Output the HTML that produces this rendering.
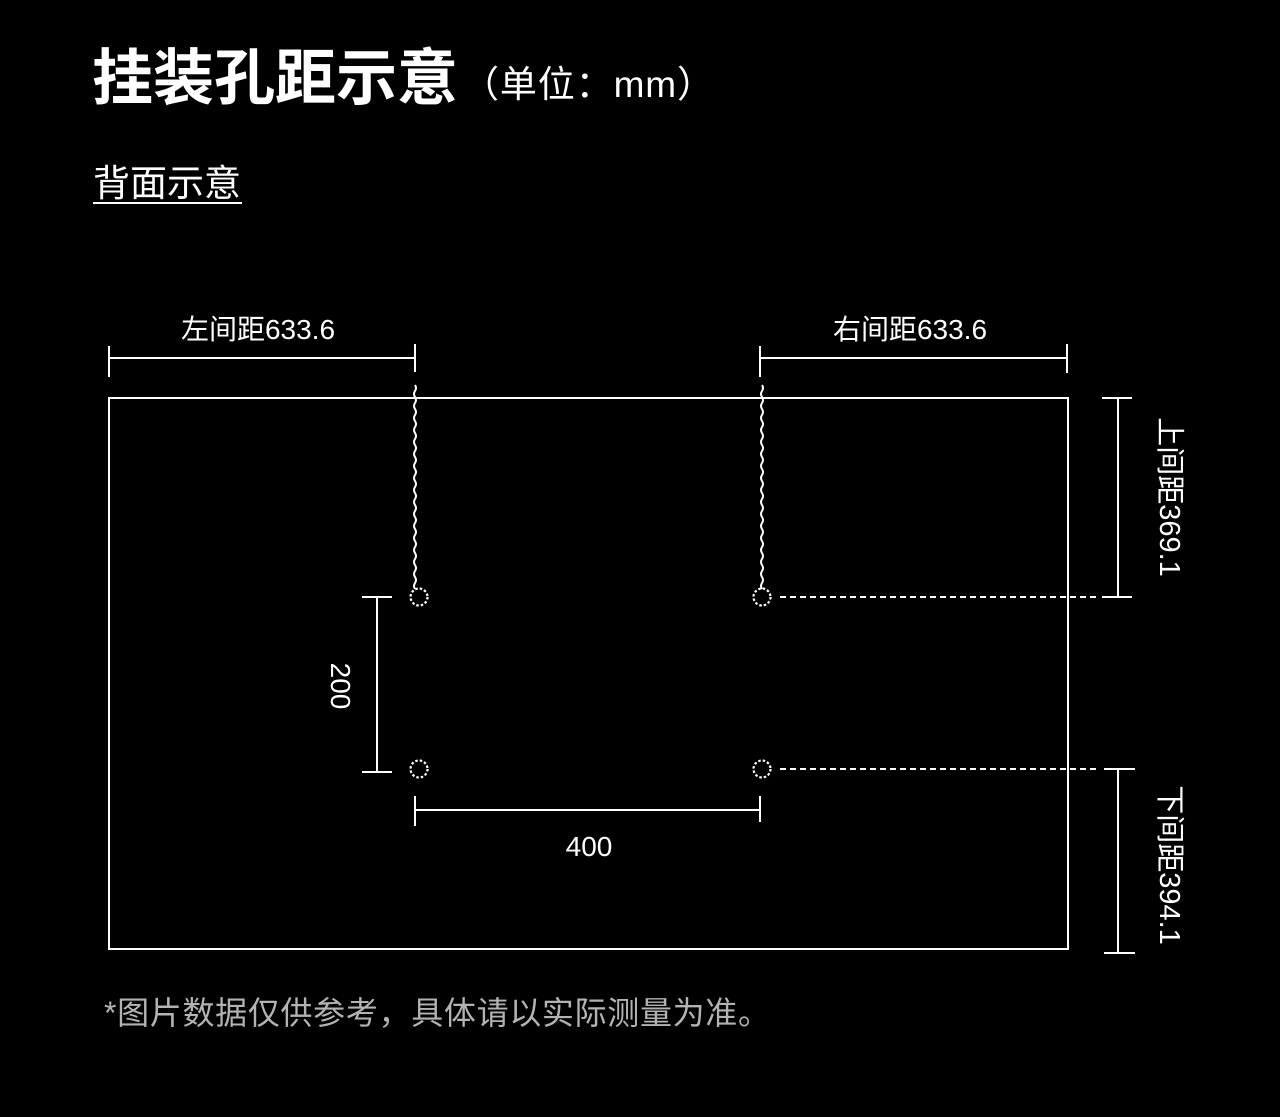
<!DOCTYPE html>
<html><head><meta charset="utf-8"><style>
html,body{margin:0;padding:0;background:#000;width:1280px;height:1117px;overflow:hidden}
svg{display:block}
text{font-family:"Liberation Sans","Noto Sans CJK SC",sans-serif;fill:#fff}
</style></head><body>
<svg width="1280" height="1117" viewBox="0 0 1280 1117">
<text x="92" y="99" font-size="61" font-weight="bold">挂装孔距示意</text>
<text x="462" y="97" font-size="37" textLength="252" lengthAdjust="spacing">（单位：mm）</text>
<text x="93" y="196" font-size="37">背面示意</text>
<line x1="93" y1="203" x2="242" y2="203" stroke="#fff" stroke-width="2"/>
<g stroke="#fff" stroke-width="2" fill="none">
<rect x="109" y="398" width="959" height="551"/>
<line x1="109" y1="358" x2="415" y2="358"/><line x1="109" y1="346" x2="109" y2="377"/><line x1="415" y1="344" x2="415" y2="372"/>
<line x1="760" y1="358" x2="1067" y2="358"/><line x1="760" y1="346" x2="760" y2="377"/><line x1="1067" y1="344" x2="1067" y2="373"/>
<line x1="1118" y1="398" x2="1118" y2="597"/><line x1="1102" y1="398" x2="1132" y2="398"/><line x1="1102" y1="597" x2="1132" y2="597"/>
<line x1="1118" y1="769" x2="1118" y2="953"/><line x1="1104" y1="769" x2="1135" y2="769"/><line x1="1104" y1="953" x2="1135" y2="953"/>
<line x1="377" y1="597" x2="377" y2="772"/><line x1="362" y1="597" x2="392" y2="597"/><line x1="362" y1="772" x2="392" y2="772"/>
<line x1="415" y1="810" x2="760" y2="810"/><line x1="415" y1="796" x2="415" y2="826"/><line x1="760" y1="796" x2="760" y2="822"/>
<line x1="780" y1="597" x2="1100" y2="597" stroke-dasharray="6,4" stroke-width="2"/>
<line x1="780" y1="769" x2="1100" y2="769" stroke-dasharray="6,4" stroke-width="2"/>
<path d="M415 385 q2 3 0 6 q-2 3 0 6 q2 3 0 6 q-2 3 0 6 q2 3 0 6 q-2 3 0 6 q2 3 0 6 q-2 3 0 6 q2 3 0 6 q-2 3 0 6 q2 3 0 6 q-2 3 0 6 q2 3 0 6 q-2 3 0 6 q2 3 0 6 q-2 3 0 6 q2 3 0 6 q-2 3 0 6 q2 3 0 6 q-2 3 0 6 q2 3 0 6 q-2 3 0 6 q2 3 0 6 q-2 3 0 6 q2 3 0 6 q-2 3 0 6 q2 3 0 6 q-2 3 0 6 q2 3 0 6 q-2 3 0 6 q2 3 0 6 q-2 3 0 6 q2 3 0 6 q-2 3 0 6" stroke-width="2"/>
<path d="M762 385 q2 3 0 6 q-2 3 0 6 q2 3 0 6 q-2 3 0 6 q2 3 0 6 q-2 3 0 6 q2 3 0 6 q-2 3 0 6 q2 3 0 6 q-2 3 0 6 q2 3 0 6 q-2 3 0 6 q2 3 0 6 q-2 3 0 6 q2 3 0 6 q-2 3 0 6 q2 3 0 6 q-2 3 0 6 q2 3 0 6 q-2 3 0 6 q2 3 0 6 q-2 3 0 6 q2 3 0 6 q-2 3 0 6 q2 3 0 6 q-2 3 0 6 q2 3 0 6 q-2 3 0 6 q2 3 0 6 q-2 3 0 6 q2 3 0 6 q-2 3 0 6 q2 3 0 6 q-2 3 0 6" stroke-width="2"/>
<g stroke-dasharray="2.5,2" stroke-width="2.2">
<circle cx="419" cy="597" r="8.5"/><circle cx="762" cy="597" r="8.5"/>
<circle cx="419" cy="769" r="8.5"/><circle cx="762" cy="769" r="8.5"/>
</g>
</g>
<text x="258" y="339" font-size="28" text-anchor="middle">左间距633.6</text>
<text x="910" y="339" font-size="28" text-anchor="middle">右间距633.6</text>
<text x="589" y="856" font-size="28" text-anchor="middle">400</text>
<text transform="translate(331,686) rotate(90)" font-size="28" text-anchor="middle">200</text>
<text transform="translate(1160,497) rotate(90)" font-size="29" text-anchor="middle">上间距369.1</text>
<text transform="translate(1160,865) rotate(90)" font-size="29" text-anchor="middle">下间距394.1</text>
<text x="104" y="1024" font-size="32" textLength="666" lengthAdjust="spacing" style="fill:#b3b3b3">*图片数据仅供参考，具体请以实际测量为准。</text>
</svg>
</body></html>
